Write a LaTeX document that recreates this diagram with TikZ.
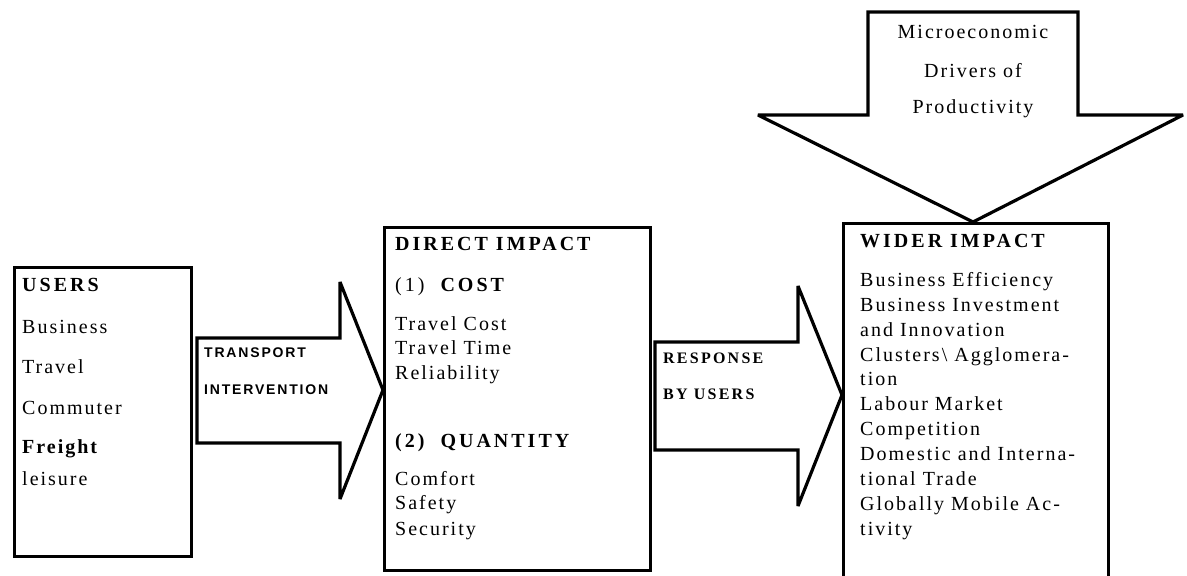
\documentclass[tikz,border=0pt]{standalone}
\usepackage{fontspec}
\setmainfont{Liberation Serif}[LetterSpace=10,Ligatures=CommonOff]
\newfontfamily\hdserif{Liberation Serif}[LetterSpace=15,Ligatures=CommonOff]
\newfontfamily\arrsans{Liberation Sans}[LetterSpace=13]
\newfontfamily\arrserif{Liberation Serif}[LetterSpace=14]
\begin{document}
\begin{tikzpicture}[x=1pt,y=-1pt,
  box/.style={draw, line width=3.4pt, anchor=north west, inner sep=0pt},
  txt/.style={anchor=mid west, inner sep=0pt, font=\fontsize{20}{24}\selectfont},
  hd/.style={anchor=mid west, inner sep=0pt, font=\fontsize{20}{24}\selectfont\hdserif\bfseries},
  ctxt/.style={anchor=mid, inner sep=0pt, font=\fontsize{20}{24}\selectfont},
  arrlbl/.style={anchor=mid west, inner sep=0pt, font=\fontsize{14}{16}\selectfont\arrsans\bfseries},
  arrlbls/.style={anchor=mid west, inner sep=0pt, font=\fontsize{16}{20}\selectfont\arrserif\bfseries},
  bigarrow/.style={draw, line width=3.2pt, line join=miter, miter limit=3, fill=white}]
\useasboundingbox (0,0) rectangle (1187,576);
\clip (0,0) rectangle (1187,576);
\fill[white] (0,0) rectangle (1187,576);

% big block arrows
\coordinate (tA1) at (197,338); \coordinate (tA2) at (340,338); \coordinate (tA3) at (340,282);
\coordinate (tTip) at (383,390); \coordinate (tA5) at (340,499); \coordinate (tA6) at (340,443);
\coordinate (tA7) at (197,443);
\draw[bigarrow] (tA1) -- (tA2) -- (tA3) -- (tTip) -- (tA5) -- (tA6) -- (tA7) -- cycle;

\coordinate (rA1) at (655,342); \coordinate (rA2) at (798,342); \coordinate (rA3) at (798,286);
\coordinate (rTip) at (842,395); \coordinate (rA5) at (798,506); \coordinate (rA6) at (798,450);
\coordinate (rA7) at (655,450);
\draw[bigarrow] (rA1) -- (rA2) -- (rA3) -- (rTip) -- (rA5) -- (rA6) -- (rA7) -- cycle;

\coordinate (mA1) at (868,12); \coordinate (mA2) at (1078,12); \coordinate (mA3) at (1078,115);
\coordinate (mA4) at (1183,115); \coordinate (mTip) at (973,222); \coordinate (mA6) at (758,115);
\coordinate (mA7) at (868,115);
\draw[bigarrow] (mA1) -- (mA2) -- (mA3) -- (mA4) -- (mTip) -- (mA6) -- (mA7) -- cycle;

% boxes
\node[box, minimum width=177pt, minimum height=289pt] (users) at (13,266) {};
\node[box, minimum width=266pt, minimum height=343pt] (direct) at (383,226) {};
\node[box, line width=2.8pt, minimum width=265pt, minimum height=360pt] (wider) at (842,222) {};

% users text
\node[hd]  (u0) at (22,289) {USERS};
\node[txt] (u1) at (22,331) {Business};
\node[txt] (u2) at (22,371) {Travel};
\node[txt] (u3) at (22,412) {Commuter};
\node[txt, font=\fontsize{20}{24}\selectfont\bfseries] (u4) at (22,451) {Freight};
\node[txt] (u5) at (22,483) {leisure};

% transport arrow label
\node[arrlbl] (t1) at (204,355) {TRANSPORT};
\node[arrlbl] (t2) at (204,392) {INTERVENTION};

% direct impact text
\node[hd]  (d0) at (395,248) {DIRECT IMPACT};
\node[hd]  (d1) at (395,289) {\mdseries(1)\ \ \bfseries COST};
\node[txt] (d2) at (395,328) {Travel Cost};
\node[txt] (d3) at (395,352) {Travel Time};
\node[txt] (d4) at (395,377) {Reliability};
\node[hd]  (d5) at (395,445) {(2)\ \ QUANTITY};
\node[txt] (d6) at (395,483) {Comfort};
\node[txt] (d7) at (395,507) {Safety};
\node[txt] (d8) at (395,533) {Security};

% response arrow label
\node[arrlbls] (r1) at (663,361) {RESPONSE};
\node[arrlbls] (r2) at (663,397) {BY USERS};

% microeconomic arrow text
\node[ctxt] (m1) at (973,36) {Microeconomic};
\node[ctxt] (m2) at (973,75) {Drivers of};
\node[ctxt] (m3) at (973,111) {Productivity};

% wider impact text
\node[hd]  (w0) at (860,245) {WIDER IMPACT};
\node[txt] (w1) at (860,284) {Business Efficiency};
\node[txt] (w2) at (860,309) {Business Investment};
\node[txt] (w3) at (860,334) {and Innovation};
\node[txt] (w4) at (860,359) {Clusters\textbackslash\ Agglomera-};
\node[txt] (w5) at (860,383) {tion};
\node[txt] (w6) at (860,408) {Labour Market};
\node[txt] (w7) at (860,433) {Competition};
\node[txt] (w8) at (860,458) {Domestic and Interna-};
\node[txt] (w9) at (860,483) {tional Trade};
\node[txt] (w10) at (860,508) {Globally Mobile Ac-};
\node[txt] (w11) at (860,533) {tivity};
\end{tikzpicture}
\end{document}
